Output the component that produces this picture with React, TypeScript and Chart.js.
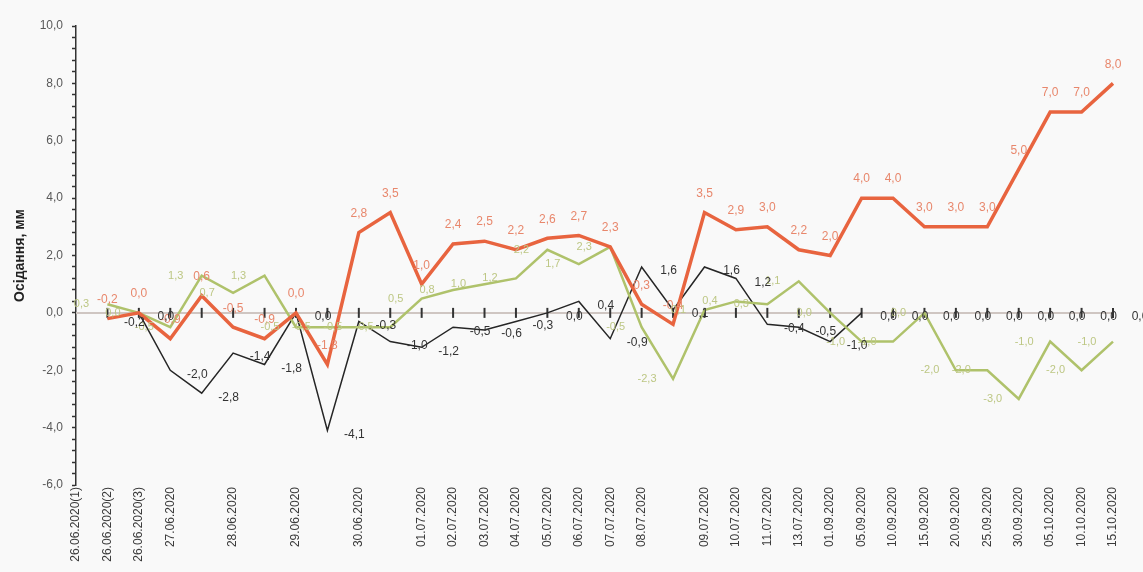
import React, { useEffect, useRef } from "react";
import { Chart, registerables } from "chart.js";

Chart.register(...registerables);

const categories: string[] = [
  "26.06.2020(1)", "26.06.2020(2)", "26.06.2020(3)", "27.06.2020", "",
  "28.06.2020", "", "29.06.2020", "", "30.06.2020", "",
  "01.07.2020", "02.07.2020", "03.07.2020", "04.07.2020", "05.07.2020",
  "06.07.2020", "07.07.2020", "08.07.2020", "", "09.07.2020",
  "10.07.2020", "11.07.2020", "13.07.2020", "01.09.2020", "05.09.2020",
  "10.09.2020", "15.09.2020", "20.09.2020", "25.09.2020", "30.09.2020",
  "05.10.2020", "10.10.2020", "15.10.2020",
];

const redSeries: (number | null)[] = [
  null, -0.2, 0.0, -0.9, 0.6, -0.5, -0.9, 0.0, -1.8, 2.8, 3.5,
  1.0, 2.4, 2.5, 2.2, 2.6, 2.7, 2.3, 0.3, -0.4, 3.5,
  2.9, 3.0, 2.2, 2.0, 4.0, 4.0, 3.0, 3.0, 3.0, 5.0,
  7.0, 7.0, 8.0,
];

const greenSeries: (number | null)[] = [
  null, 0.3, 0.0, -0.5, 1.3, 0.7, 1.3, -0.5, -0.5, -0.5, -0.5,
  0.5, 0.8, 1.0, 1.2, 2.2, 1.7, 2.3, -0.5, -2.3, 0.1,
  0.4, 0.3, 1.1, 0.0, -1.0, -1.0, 0.0, -2.0, -2.0, -3.0,
  -1.0, -2.0, -1.0,
];

const blackSeries: (number | null)[] = [
  null, -0.2, 0.0, -2.0, -2.8, -1.4, -1.8, 0.0, -4.1, -0.3, -1.0,
  -1.2, -0.5, -0.6, -0.3, 0.0, 0.4, -0.9, 1.6, 0.1, 1.6,
  1.2, -0.4, -0.5, -1.0, 0.0, 0.0, 0.0, 0.0, 0.0, 0.0,
  0.0, 0.0, 0.0,
];

const yMin = -6;
const yMax = 10;
const yStep = 0.4;
const yLabelStep = 2;
const yTitle = "Осідання, мм";

const FONT = "'Liberation Sans', Arial, sans-serif";

const fmt = (v: number) => {
  const s = (Math.abs(v) < 1e-9 ? 0 : v).toFixed(1);
  return s.replace(".", ",");
};

const labelStyles = [
  { color: "#e8876c", dx: 0, dy: -19, size: 12 },
  { color: "#bdc784", dx: -26, dy: 0, size: 11 },
  { color: "#333333", dx: 27, dy: 4, size: 12 },
];

const zeroLinePlugin = {
  id: "zeroLine",
  beforeDatasetsDraw(chart: any) {
    const { ctx, chartArea, scales } = chart;
    const y0 = scales.y.getPixelForValue(0);
    ctx.save();
    ctx.strokeStyle = "#cfc6c2";
    ctx.lineWidth = 2;
    ctx.beginPath();
    ctx.moveTo(chartArea.left, y0);
    ctx.lineTo(chartArea.right, y0);
    ctx.stroke();
    ctx.strokeStyle = "#333";
    ctx.lineWidth = 2;
    for (let i = 1; i < categories.length; i++) {
      const x = scales.x.getPixelForValue(i);
      ctx.beginPath();
      ctx.moveTo(x, y0 - 5);
      ctx.lineTo(x, y0 + 5);
      ctx.stroke();
    }
    ctx.restore();
  },
};

const dataLabelPlugin = {
  id: "dataLabels",
  afterDatasetsDraw(chart: any) {
    const { ctx } = chart;
    ctx.save();
    ctx.textBaseline = "middle";
    ctx.textAlign = "center";
    chart.data.datasets.forEach((ds: any, di: number) => {
      const st = labelStyles[di];
      const meta = chart.getDatasetMeta(di);
      ctx.fillStyle = st.color;
      ctx.font = `${st.size}px ${FONT}`;
      meta.data.forEach((pt: any, i: number) => {
        const v = ds.data[i];
        if (v === null || v === undefined) return;
        ctx.fillText(fmt(v), pt.x + st.dx, pt.y + st.dy);
      });
    });
    ctx.restore();
  },
};

const bgPlugin = {
  id: "bg",
  beforeDraw(chart: any) {
    const { ctx, width, height } = chart;
    ctx.save();
    ctx.fillStyle = "#f9f9f9";
    ctx.fillRect(0, 0, width, height);
    ctx.restore();
  },
};

export default function App() {
  const ref = useRef<HTMLCanvasElement | null>(null);

  useEffect(() => {
    document.body.style.margin = "0";
    document.body.style.background = "#f9f9f9";
    const canvas = ref.current;
    if (!canvas) return;
    const chart = new Chart(canvas, {
      type: "line",
      data: {
        labels: categories,
        datasets: [
          {
            data: redSeries,
            borderColor: "#e8643f",
            borderWidth: 3.5,
            pointRadius: 0,
            tension: 0,
          },
          {
            data: greenSeries,
            borderColor: "#afc26b",
            borderWidth: 2.5,
            pointRadius: 0,
            tension: 0,
          },
          {
            data: blackSeries,
            borderColor: "#262626",
            borderWidth: 1.5,
            pointRadius: 0,
            tension: 0,
            segment: {
              borderColor: (c: any) => (c.p0DataIndex >= 25 ? "rgba(0,0,0,0)" : undefined),
            },
          },
        ],
      },
      options: {
        animation: false,
        responsive: false,
        devicePixelRatio: 1,
        layout: { padding: { top: 26, right: 30, left: 0, bottom: 0 } },
        plugins: {
          legend: { display: false },
          tooltip: { enabled: false },
        },
        scales: {
          x: {
            type: "category",
            offset: false,
            grid: { display: false, drawTicks: false },
            border: { display: false },
            ticks: {
              autoSkip: false,
              maxRotation: 90,
              minRotation: 90,
              padding: 2,
              color: "#3a3a3a",
              font: { family: FONT, size: 12 },
            },
            afterFit: (s: any) => {
              s.height = 87;
            },
          },
          y: {
            min: yMin,
            max: yMax,
            border: { display: true, color: "#333", width: 1.5 },
            grid: {
              drawOnChartArea: false,
              drawTicks: true,
              tickLength: 4,
              tickColor: "#333",
              tickWidth: 1.5,
            },
            ticks: {
              stepSize: yStep,
              maxTicksLimit: 100,
              autoSkip: false,
              padding: 9,
              color: "#595959",
              font: { family: FONT, size: 12 },
              callback: (v: any) => {
                const n = Number(v);
                const r = n / yLabelStep;
                return Math.abs(r - Math.round(r)) < 1e-6 ? fmt(n) : "";
              },
            },
            title: {
              display: true,
              text: yTitle,
              color: "#222",
              font: { family: FONT, size: 14, weight: "bold" },
              padding: { top: 12, bottom: 0 },
            },
            afterFit: (s: any) => {
              s.width = 76;
            },
          },
        },
      },
      plugins: [bgPlugin, zeroLinePlugin, dataLabelPlugin],
    } as any);
    return () => chart.destroy();
  }, []);

  return (
    <div style={{ width: 1143, height: 572 }}>
      <canvas ref={ref} width={1143} height={572} style={{ display: "block" }} />
    </div>
  );
}
